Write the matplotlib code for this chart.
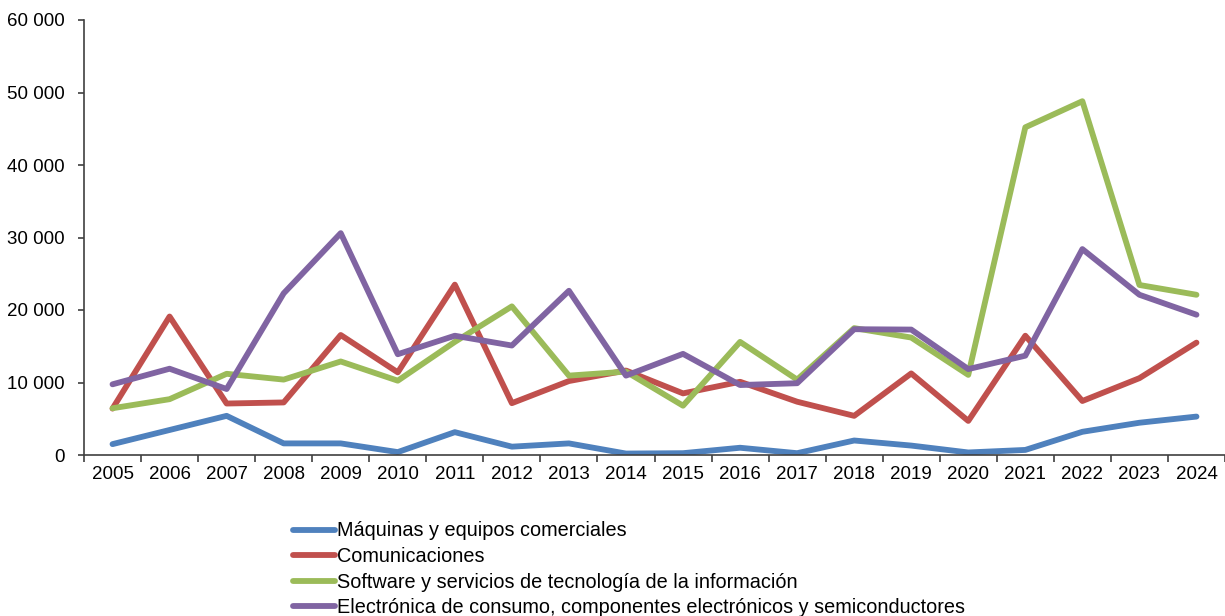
import numpy as np
import matplotlib
matplotlib.use("Agg")
import matplotlib.pyplot as plt
from matplotlib.ticker import FuncFormatter, MultipleLocator, FixedLocator

years = [str(y) for y in range(2005, 2025)]

maquinas = [1500, 3450, 5400, 1600, 1600, 400, 3150, 1150, 1600, 200,
            250, 1000, 250, 2000, 1300, 350, 700, 3200, 4450, 5300]
comunicaciones = [6400, 19100, 7100, 7250, 16550, 11400, 23500, 7150, 10200, 11650,
                  8500, 10100, 7350, 5400, 11250, 4700, 16450, 7450, 10600, 15500]
software = [6450, 7700, 11200, 10400, 12900, 10250, 15600, 20500, 10950, 11500,
            6800, 15600, 10400, 17500, 16200, 11050, 45200, 48800, 23450, 22100]
electronica = [9750, 11900, 9100, 22300, 30600, 13900, 16450, 15100, 22650, 10950,
               13950, 9650, 9900, 17350, 17300, 11850, 13700, 28400, 22100, 19350]

series = [
    ("Máquinas y equipos comerciales", maquinas, "#4F81BD"),
    ("Comunicaciones", comunicaciones, "#C0504D"),
    ("Software y servicios de tecnología de la información", software, "#9BBB59"),
    ("Electrónica de consumo, componentes electrónicos y semiconductores", electronica, "#8064A2"),
]

plt.rcParams["font.family"] = ["Liberation Sans", "DejaVu Sans"]

fig = plt.figure(figsize=(12.25, 6.16), dpi=100)
ax = fig.add_axes([84 / 1225, 161 / 616, 1141 / 1225, 435 / 616])

x = np.arange(len(years))
for label, values, color in series:
    ax.plot(x, values, color=color, linewidth=4.2, label=label,
            solid_capstyle="round", solid_joinstyle="round")

ax.set_xlim(-0.5, len(years) - 0.5)
ax.set_ylim(0, 60000)
ax.yaxis.set_major_locator(MultipleLocator(10000))
ax.yaxis.set_major_formatter(FuncFormatter(lambda v, p: f"{v:,.0f}".replace(",", " ")))

# years sit between the tick marks, like a category axis
ax.set_xticks(x)
ax.set_xticklabels(years)
ax.tick_params(axis="x", which="major", length=0, pad=8, labelsize=13.5)
ax.xaxis.set_minor_locator(FixedLocator(np.arange(-0.5, len(years), 1.0)))
ax.tick_params(axis="x", which="minor", length=5, width=1.2, color="#404040")
ax.tick_params(axis="y", length=4, width=1.2, color="#404040", pad=10, labelsize=13.5)

for side in ["top", "right"]:
    ax.spines[side].set_visible(False)
for side in ["left", "bottom"]:
    ax.spines[side].set_color("#404040")
    ax.spines[side].set_linewidth(1.2)

ax.legend(loc="upper left", bbox_to_anchor=(293 / 1225, 94.5 / 616),
          bbox_transform=fig.transFigure, frameon=False, fontsize=14.3,
          handlelength=2.1, handletextpad=0.1, labelspacing=0.33, borderpad=0,
          borderaxespad=0)

fig.savefig("out.png", dpi=100)
